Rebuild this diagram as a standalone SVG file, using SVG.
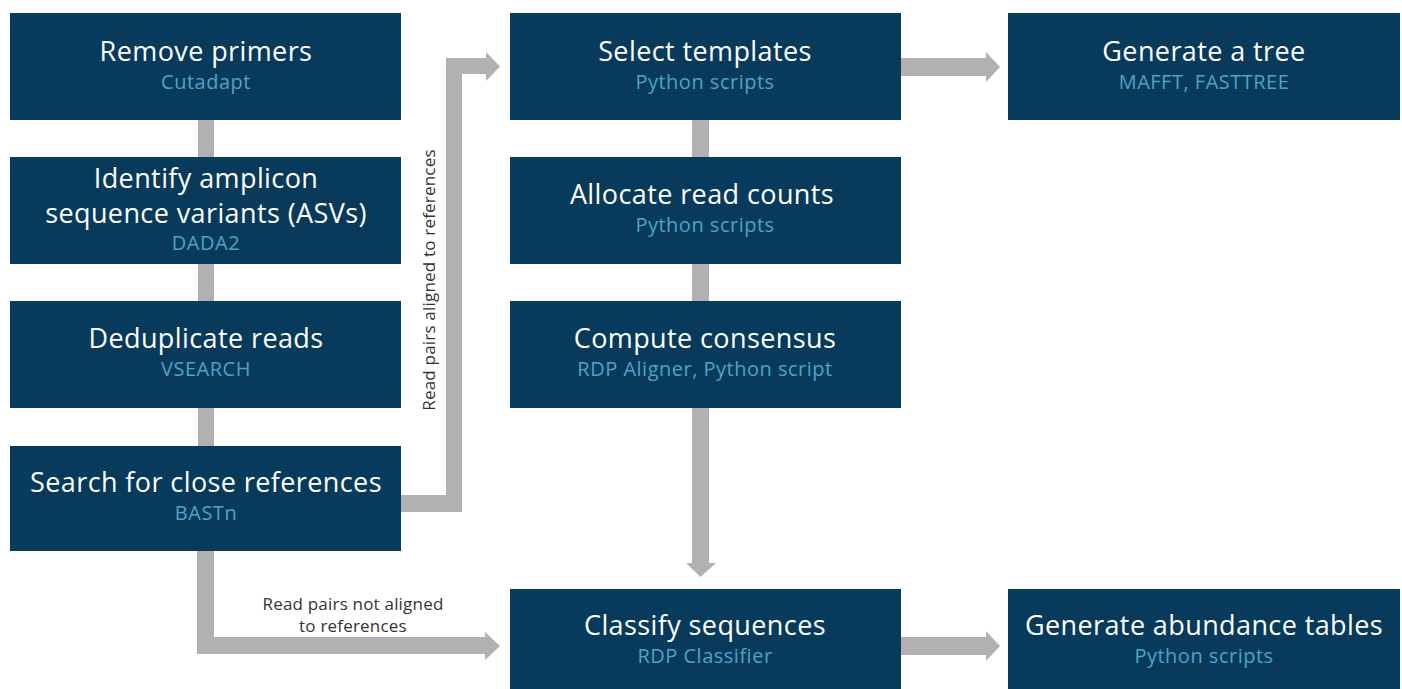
<svg xmlns="http://www.w3.org/2000/svg" width="1402" height="689" viewBox="0 0 1402 689">
<style>
.box{fill:#083a5b;}
.t{font-family:"Open Sans",Lato,sans-serif;font-size:27px;letter-spacing:0.4px;fill:#ffffff;text-anchor:middle;}
.s{font-family:"Open Sans",Lato,sans-serif;font-size:20px;letter-spacing:0.5px;fill:#4fa3c7;text-anchor:middle;}
.c{fill:#b1b1b1;}
.l{font-family:"Open Sans",Lato,sans-serif;font-size:17px;letter-spacing:0.2px;fill:#333333;text-anchor:middle;}
</style>
<rect width="1402" height="689" fill="#ffffff"/>
<g id="connectors">
<rect class="c" x="198" y="120" width="16" height="37"/>
<rect class="c" x="198" y="264" width="16" height="37"/>
<rect class="c" x="198" y="408" width="16" height="38"/>
<rect class="c" x="692" y="120" width="17" height="37"/>
<rect class="c" x="692" y="264" width="17" height="37"/>
<polygon class="c" points="692,408 709,408 709,563 716,563 700.5,577 686,563 692,563"/>
<polygon class="c" points="901,58 986,58 986,52 1000,67 986,82 986,76 901,76"/>
<polygon class="c" points="901,637 986,637 986,631 1000,646 986,661 986,655 901,655"/>
<polygon class="c" points="401,495 446,495 446,58 486,58 486,52 500,66.5 486,81 486,74 462,74 462,512 401,512"/>
<polygon class="c" points="197,551 214,551 214,637 485,637 485,632 500,646 485,660 485,654 197,654"/>
<text class="l" x="353" y="610">Read pairs not aligned</text>
<text class="l" x="353" y="632">to references</text>
<text class="l" transform="translate(435,280) rotate(-90)">Read pairs aligned to references</text>
</g>
<g id="remove-primers"><rect class="box" x="10" y="13" width="391" height="107"/><text class="t" x="206" y="61">Remove primers</text><text class="s" x="206" y="89">Cutadapt</text></g>
<g id="identify-asvs"><rect class="box" x="10" y="157" width="391" height="107"/><text class="t" x="206" y="188">Identify amplicon</text><text class="t" x="206" y="223">sequence variants (ASVs)</text><text class="s" x="206" y="250">DADA2</text></g>
<g id="deduplicate"><rect class="box" x="10" y="301" width="391" height="107"/><text class="t" x="206" y="348">Deduplicate reads</text><text class="s" x="206" y="376">VSEARCH</text></g>
<g id="search"><rect class="box" x="10" y="446" width="391" height="105"/><text class="t" x="206" y="492">Search for close references</text><text class="s" x="206" y="520">BASTn</text></g>
<g id="select"><rect class="box" x="510" y="13" width="391" height="107"/><text class="t" x="705" y="61">Select templates</text><text class="s" x="705" y="89">Python scripts</text></g>
<g id="allocate"><rect class="box" x="510" y="157" width="391" height="107"/><text class="t" x="702" y="204">Allocate read counts</text><text class="s" x="705" y="232">Python scripts</text></g>
<g id="consensus"><rect class="box" x="510" y="301" width="391" height="107"/><text class="t" x="705" y="348">Compute consensus</text><text class="s" x="705" y="376">RDP Aligner, Python script</text></g>
<g id="classify"><rect class="box" x="510" y="589" width="391" height="100"/><text class="t" x="705" y="635">Classify sequences</text><text class="s" x="705" y="663">RDP Classifier</text></g>
<g id="tree"><rect class="box" x="1008" y="13" width="392" height="107"/><text class="t" x="1204" y="61">Generate a tree</text><text class="s" x="1204" y="89">MAFFT, FASTTREE</text></g>
<g id="abundance"><rect class="box" x="1008" y="589" width="392" height="100"/><text class="t" x="1204" y="635">Generate abundance tables</text><text class="s" x="1204" y="663">Python scripts</text></g>
</svg>
